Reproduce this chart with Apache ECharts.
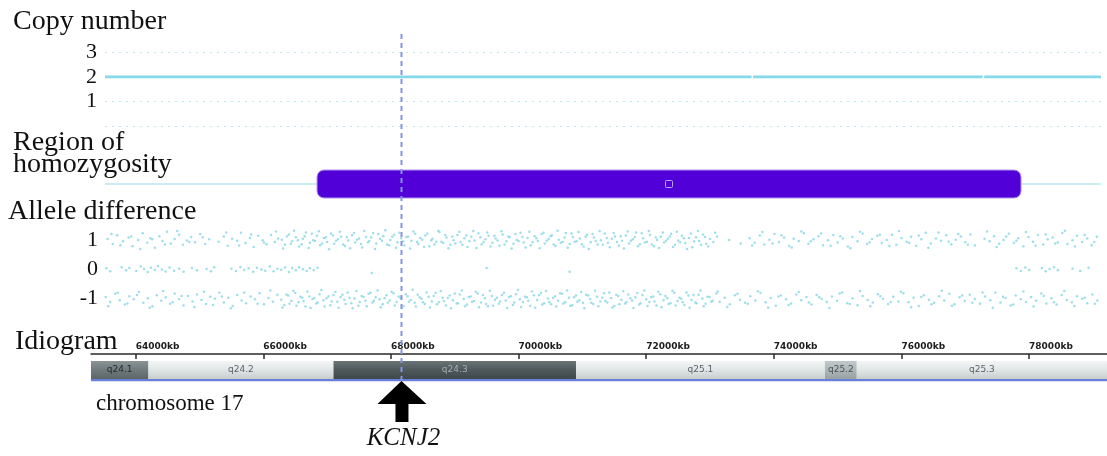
<!DOCTYPE html>
<html>
<head>
<meta charset="utf-8">
<script src="https://cdn.jsdelivr.net/npm/echarts@6/dist/echarts.min.js"></script>
<style>
html,body{margin:0;padding:0;background:#fff;}
#chart{width:1107px;height:456px;}
</style>
</head>
<body>
<div id="chart"></div>
<script>
// ---------------- DATA (positions in kb on chromosome 17) ----------------
const VIEW_TOP = [63519, 79126];        // visible range of the data tracks
const VIEW_IDIO = [63300, 79221];       // visible range of the idiogram ruler
const MAJOR_TICKS = [64000, 66000, 68000, 70000, 72000, 74000, 76000, 78000];
const CN_TICKS = [1, 2, 3];
const ALLELE_TICKS = [-1, 0, 1];
const KCNJ2_POS = 68165;
const GENE_NAME = 'KCNJ2';

// copy-number segments [start, end, copies]
const CN_SEGMENTS = [[63519, 73650, 2], [73675, 77270, 2], [77295, 79126, 2]];
// region of homozygosity [start, end]
const ROH_REGIONS = [[66841, 77873]];
// cytobands
const BAND_START = [62600, 64200, 67100, 70900, 74800, 75300];
const BAND_END   = [64200, 67100, 70900, 74800, 75300, 81195];
const BAND_NAME  = ['q24.1', 'q24.2', 'q24.3', 'q25.1', 'q25.2', 'q25.3'];
const BAND_STAIN = ['gpos75', 'gneg', 'gpos100', 'gneg', 'gpos50', 'gneg'];

// allele-difference probes [position kb, value]
const ALLELE_UP = [
[63560,1.05],[63640,0.88],[63710,1.18],[63800,0.97],[63890,1.10],[63950,0.80],[64040,1.02],[64110,1.25],[64180,0.92],[64230,1.08],
[64300,0.75],[64370,1.15],[64420,0.98],[64490,1.30],[64550,0.90],[64610,1.05],[64680,1.20],[64740,0.85],[64800,1.00],[64870,1.12],
[64930,0.94],[65010,1.22],[65090,0.88],[65150,1.04],[65300,0.96],[65380,1.14],[65440,0.82],[65510,1.06],[65590,0.99],[65650,1.27],
[65720,0.91],[65790,1.09],[65850,0.78],[65920,1.16],[65990,1.01],[66050,0.87],[66120,1.19],[66180,0.95],[66230,1.07],
[66290,1.03],[66340,0.86],[66400,1.21],[66450,0.97],[66510,1.11],[66560,0.79],[66620,1.06],[66670,1.28],[66730,0.92],[66780,1.01],
[66840,1.16],[66890,0.84],[66950,1.09],[67000,0.95],[67060,1.24],[67110,0.89],[67170,1.04],[67220,1.13],[67280,0.81],[67330,1.00],
[67390,1.18],[67440,0.93],[67500,1.07],[67550,0.76],[67610,1.12],[67660,0.98],[67720,1.26],[67770,0.90],[67830,1.05],[67880,1.15],
[67940,0.86],[67990,1.02],[68050,1.20],[68100,0.94],[68160,1.08],[68210,0.83],[68270,1.14],[68320,0.99],[68380,1.23],[68430,0.88],
[68490,1.03],[68540,1.17],[68600,0.80],[68650,1.06],[68710,0.96],[68760,1.29],[68820,0.91],[68870,1.10],[68930,0.85],[68980,1.01],
[69040,1.19],[69090,0.95],[69150,1.08],[69200,0.78],[69260,1.13],[69310,1.00],[69370,1.25],[69420,0.87],[69480,1.04],[69530,1.16],
[69590,0.92],[69640,1.07],[69700,0.82],[69750,1.21],[69810,0.97],[69860,1.11],[69920,0.89],[69970,1.02],[70030,1.27],[70080,0.93],
[70140,1.09],[70190,0.84],[70250,1.15],[70300,0.98],[70360,1.22],[70410,0.90],[70470,1.05],[70520,1.18],[70580,0.81],[70630,1.03],
[70690,0.95],[70740,1.26],[70800,0.88],[70850,1.12],[70910,0.97],[70960,1.07],[71020,0.79],[71070,1.20],[71130,0.94],[71180,1.10],
[71240,0.86],[71290,1.01],[71350,1.24],[71400,0.92],[71460,1.06],[71510,1.14],[71570,0.83],[71620,0.99],[71680,1.17],[71730,0.90],
[71790,1.04],[71840,1.28],[71900,0.87],[71950,1.08],[72010,0.96],[72060,1.19],[72120,0.80],[72170,1.02],[72230,1.13],[72280,0.93],
[72340,1.06],[72390,1.23],[72450,0.85],[72500,1.00],[72560,1.16],[72610,0.91],[72670,1.09],[72720,0.77],[72780,1.11],[72830,0.98],
[72890,1.21],[72940,0.89],[73000,1.05],[73050,0.95],[73110,1.14],[73300,1.02],[73480,0.90],
[73620,1.08],[73700,0.92],[73780,1.17],[73850,0.86],[73930,1.03],[74010,1.22],[74080,0.95],[74160,1.10],[74240,0.81],[74310,1.06],
[74390,0.98],[74470,1.25],[74540,0.89],[74620,1.04],[74700,1.15],[74770,0.84],[74850,1.01],[74930,1.19],[75000,0.93],[75080,1.07],
[75160,0.79],[75230,1.12],[75310,0.97],[75390,1.24],[75460,0.88],[75540,1.05],[75620,1.16],[75690,0.91],[75770,1.02],[75850,1.20],
[75920,0.85],[76000,1.09],[76080,0.96],[76150,1.13],[76230,0.82],[76310,1.04],[76380,1.27],[76460,0.90],[76540,1.07],[76620,0.99],
[76700,1.18],[76780,0.87],[76850,1.03],[76930,1.14],[77000,0.94],[77080,1.21],[77150,0.83],[77300,1.06],[77380,0.97],[77450,1.15],
[77530,0.89],[77600,1.02],[77680,1.23],[77760,0.92],[77830,1.08],[77910,0.80],[77990,1.12],[78060,0.96],[78140,1.19],[78220,0.86],
[78290,1.04],[78370,1.10],[78450,0.93],[78520,1.26],[78600,0.88],[78680,1.01],[78750,1.16],[78830,0.95],[78910,1.07],[78980,0.84],[79060,1.13]
];
const ALLELE_UP_B = [
[63620,1.22],[63760,0.84],[63930,1.14],[64070,0.71],[64260,1.04],[64460,0.86],[64650,1.33],[64840,0.95],[65050,1.11],[65420,1.28],
[65620,0.83],[65810,1.21],[66010,0.93],[66200,1.31],
[66310,0.72],[66370,1.14],[66430,0.89],[66480,1.34],[66540,1.01],[66600,0.87],[66650,1.15],[66710,0.74],[66760,1.23],[66810,0.98],
[66870,1.32],[66920,0.90],[66980,1.11],[67030,0.70],[67090,1.17],[67140,0.99],[67200,1.30],[67250,0.86],[67310,1.12],[67360,0.73],
[67420,1.26],[67470,1.03],[67530,0.88],[67580,1.33],[67640,0.94],[67690,1.10],[67750,0.71],[67800,1.22],[67860,0.99],[67910,1.35],
[67970,0.84],[68020,1.13],[68080,0.75],[68130,1.27],[68190,0.97],[68240,1.12],[68300,0.72],[68350,1.31],[68410,0.95],[68460,1.09],
[68520,0.78],[68570,1.24],[68630,1.01],[68680,0.86],[68740,1.34],[68790,0.96],[68850,1.19],[68900,0.73],[68960,1.14],[69010,0.90],
[69070,1.30],[69120,0.85],[69180,1.17],[69230,0.97],[69290,1.33],[69340,0.74],[69400,1.11],[69450,0.95],[69510,1.28],[69560,0.79],
[69620,1.16],[69670,1.00],[69730,1.32],[69780,0.86],[69840,1.14],[69890,0.72],[69950,1.22],[70000,0.98],[70060,1.12],[70110,0.76],
[70170,1.30],[70220,0.94],[70280,1.08],[70330,0.73],[70390,1.27],[70440,0.99],[70500,1.15],[70550,0.86],[70610,1.34],[70660,0.92],
[70720,1.10],[70770,0.75],[70830,1.24],[70880,0.96],[70940,1.29],[70990,0.87],[71050,1.13],[71100,0.71],[71160,1.22],[71210,0.98],
[71270,1.33],[71320,0.85],[71380,1.09],[71430,0.77],[71490,1.26],[71540,0.95],[71600,1.15],[71650,0.72],[71710,1.31],[71760,0.99],
[71820,1.12],[71870,0.80],[71930,1.25],[71980,0.93],[72040,1.33],[72090,0.86],[72150,1.10],[72200,0.74],[72260,1.28],[72310,0.99],
[72370,1.14],[72420,0.78],[72480,1.30],[72530,0.94],[72590,1.08],[72640,0.71],[72700,1.24],[72750,0.97],[72810,1.33],[72860,0.85],
[72920,1.12],[72970,0.79],[73080,1.27],
[73660,0.83],[73820,1.29],[73980,0.90],[74120,1.18],[74280,0.76],[74430,1.31],[74580,0.97],[74740,1.24],[74890,0.82],[75040,1.15],
[75200,0.73],[75350,1.30],[75500,0.94],[75660,1.20],[75810,0.81],[75960,1.33],[76120,0.92],[76270,1.17],[76420,0.75],[76580,1.28],
[76740,0.96],[76890,1.22],[77040,0.85],[77340,1.31],[77490,0.78],[77640,1.14],[77800,0.99],[77950,1.29],[78100,0.82],[78260,1.21],
[78410,0.90],[78560,1.34],[78720,0.79],[78870,1.19],[79020,0.95]
];
const ALLELE_MID = [
[63540,0.04],[63600,-0.06],[63780,0.08],[63850,-0.03],[63900,0.05],
[64010,-0.05],[64080,0.10],[64130,0.02],[64190,-0.09],[64240,0.06],[64300,-0.02],[64350,0.12],[64410,0.00],[64470,-0.07],[64530,0.07],
[64600,-0.04],[64680,0.03],[64750,-0.08],[64880,0.05],[64960,-0.03],[65110,0.02],[65180,-0.06],[65230,0.08],
[65500,0.03],[65570,-0.05],[65640,0.09],[65700,-0.02],[65770,0.04],[65840,-0.08],[65900,0.06],[65970,0.00],[66030,-0.04],[66100,0.10],
[66160,-0.06],[66220,0.03],[66280,-0.01],[66340,0.07],[66400,-0.09],[66450,0.05],[66510,-0.03],[66560,0.08],[66620,0.01],[66680,-0.05],
[66730,0.04],[66790,-0.02],[66850,0.06],
[67700,-0.12],[69500,0.05],[70800,-0.08],
[77800,0.04],[77870,-0.05],[77940,0.07],[78000,-0.02],[78200,0.05],[78260,-0.06],[78320,0.02],[78390,0.08],[78450,-0.03],
[78680,0.03],[78800,-0.05],[78930,0.06]
];
const ALLELE_DOWN = [
[63530,-0.95],[63600,-1.12],[63680,-0.84],[63750,-1.06],[63830,-1.21],[63900,-0.92],[63970,-1.03],[64050,-0.78],[64120,-1.15],[64190,-0.99],
[64260,-1.27],[64330,-0.89],[64400,-1.08],[64470,-0.96],[64540,-1.18],[64610,-0.83],[64680,-1.02],[64750,-1.24],[64820,-0.91],[64890,-1.10],
[64960,-0.86],[65030,-1.05],[65100,-1.19],[65170,-0.94],[65240,-1.01],[65310,-0.80],[65380,-1.14],[65450,-0.97],[65520,-1.26],[65590,-0.88],
[65660,-1.07],[65730,-1.16],[65800,-0.93],[65870,-1.03],[65940,-0.82],[66010,-1.20],[66080,-0.98],[66150,-1.11],[66220,-0.87],
[66280,-1.04],[66330,-1.22],[66390,-0.90],[66440,-1.09],[66500,-0.81],[66550,-1.13],[66610,-0.97],[66660,-1.28],[66720,-0.93],[66770,-1.02],
[66830,-1.17],[66880,-0.85],[66940,-1.06],[66990,-0.99],[67050,-1.23],[67100,-0.88],[67160,-1.11],[67210,-0.95],[67270,-1.04],[67320,-0.79],
[67380,-1.16],[67430,-1.00],[67490,-1.25],[67540,-0.91],[67600,-1.08],[67650,-0.84],[67710,-1.14],[67760,-0.96],[67820,-1.03],[67870,-1.20],
[67930,-0.89],[67980,-1.07],[68040,-0.82],[68090,-1.12],[68150,-0.98],[68200,-1.26],[68260,-0.92],[68310,-1.05],[68370,-1.15],[68420,-0.87],
[68480,-1.01],[68530,-1.19],[68590,-0.94],[68640,-1.10],[68700,-0.80],[68750,-1.13],[68810,-0.97],[68860,-1.24],[68920,-0.90],[68970,-1.06],
[69030,-1.17],[69080,-0.86],[69140,-1.02],[69190,-1.21],[69250,-0.93],[69300,-1.09],[69360,-0.83],[69410,-1.14],[69470,-0.99],[69520,-1.27],
[69580,-0.91],[69630,-1.04],[69690,-1.18],[69740,-0.88],[69800,-1.07],[69850,-0.95],[69910,-1.22],[69960,-0.85],[70020,-1.03],[70070,-1.12],
[70130,-0.96],[70180,-1.25],[70240,-0.89],[70290,-1.05],[70350,-0.81],[70400,-1.16],[70460,-1.00],[70510,-1.20],[70570,-0.92],[70620,-1.08],
[70680,-0.84],[70730,-1.13],[70790,-0.97],[70840,-1.23],[70900,-0.90],[70950,-1.06],[71010,-1.15],[71060,-0.87],[71120,-1.02],[71170,-1.19],
[71230,-0.94],[71280,-1.10],[71340,-0.82],[71390,-1.14],[71450,-0.98],[71500,-1.26],[71560,-0.91],[71610,-1.04],[71670,-1.17],[71720,-0.86],
[71780,-1.07],[71830,-0.96],[71890,-1.21],[71940,-0.88],[72000,-1.03],[72050,-1.12],[72110,-0.93],[72160,-1.24],[72220,-0.85],[72270,-1.06],
[72330,-0.99],[72380,-1.16],[72440,-0.80],[72490,-1.09],[72550,-1.01],[72600,-1.22],[72660,-0.90],[72710,-1.05],[72770,-1.14],[72820,-0.87],
[72880,-1.00],[72930,-1.18],[72990,-0.95],[73040,-1.08],[73100,-0.83],[73150,-1.11],
[73230,-0.97],[73310,-1.20],[73390,-0.89],[73470,-1.04],[73550,-1.15],[73630,-0.92],[73710,-1.07],[73790,-0.81],[73870,-1.13],[73950,-0.98],
[74030,-1.25],[74110,-0.90],[74190,-1.03],[74270,-1.17],[74350,-0.86],[74430,-1.06],[74510,-0.95],[74590,-1.21],[74670,-0.88],[74750,-1.02],
[74830,-1.12],[74910,-0.93],[74990,-1.08],[75070,-0.79],[75150,-1.16],[75230,-0.99],[75310,-1.23],[75390,-0.91],[75470,-1.05],[75550,-1.14],
[75630,-0.85],[75710,-1.01],[75790,-1.19],[75870,-0.94],[75950,-1.10],[76030,-0.82],[76110,-1.13],[76190,-0.97],[76270,-1.26],[76350,-0.89],
[76430,-1.04],[76510,-1.15],[76590,-0.92],[76670,-1.07],[76750,-0.84],[76830,-1.20],[76910,-0.96],[76990,-1.09],[77070,-0.87],[77150,-1.02],
[77230,-1.18],[77310,-0.93],[77390,-1.06],[77470,-0.80],[77550,-1.14],[77630,-0.98],[77710,-1.24],[77790,-0.90],[77870,-1.03],[77950,-1.12],
[78030,-0.95],[78110,-1.08],[78190,-0.83],[78270,-1.17],[78350,-0.99],[78430,-1.21],[78510,-0.88],[78590,-1.05],[78670,-1.13],[78750,-0.92],
[78830,-1.01],[78910,-1.16],[78990,-0.86],[79070,-1.07]
];
const ALLELE_DOWN_B = [
[63570,-1.27],[63720,-0.80],[63870,-1.17],[64020,-0.88],[64220,-1.32],[64430,-0.74],[64580,-1.13],[64720,-0.91],[64920,-1.29],[65070,-0.77],
[65210,-1.22],[65350,-0.93],[65490,-1.34],[65700,-0.79],[65910,-1.18],[66110,-0.72],
[66300,-1.31],[66360,-0.86],[66410,-1.18],[66470,-0.73],[66520,-1.25],[66580,-0.94],[66630,-1.09],[66690,-0.76],[66740,-1.33],[66800,-0.98],
[66850,-1.14],[66910,-0.71],[66960,-1.28],[67020,-0.92],[67070,-1.10],[67130,-0.78],[67180,-1.32],[67240,-0.87],[67290,-1.19],[67350,-0.97],
[67400,-1.34],[67460,-0.74],[67510,-1.12],[67570,-0.95],[67620,-1.27],[67680,-0.80],[67730,-1.08],[67790,-0.72],[67840,-1.30],[67900,-0.99],
[67950,-1.15],[68010,-0.77],[68060,-1.24],[68120,-0.93],[68170,-1.33],[68230,-0.85],[68280,-1.11],[68340,-0.70],[68390,-1.28],[68450,-0.96],
[68500,-1.13],[68560,-0.79],[68610,-1.31],[68670,-0.91],[68720,-1.20],[68780,-0.74],[68830,-1.09],[68890,-0.98],[68940,-1.34],[69000,-0.83],
[69050,-1.16],[69110,-0.72],[69160,-1.27],[69220,-0.95],[69270,-1.12],[69330,-0.77],[69380,-1.30],[69440,-0.88],[69490,-1.19],[69550,-0.73],
[69600,-1.25],[69660,-0.97],[69710,-1.10],[69770,-0.80],[69820,-1.33],[69880,-0.92],[69930,-1.14],[69990,-0.71],[70040,-1.29],[70100,-0.94],
[70150,-1.08],[70210,-0.76],[70260,-1.32],[70320,-0.89],[70370,-1.21],[70430,-0.74],[70480,-1.13],[70540,-0.98],[70590,-1.28],[70650,-0.82],
[70700,-1.17],[70760,-0.72],[70810,-1.25],[70870,-0.96],[70920,-1.11],[70980,-0.78],[71030,-1.34],[71090,-0.90],[71140,-1.15],[71200,-0.73],
[71250,-1.27],[71310,-0.97],[71360,-1.09],[71420,-0.79],[71470,-1.31],[71530,-0.87],[71580,-1.20],[71640,-0.74],[71690,-1.12],[71750,-0.99],
[71800,-1.33],[71860,-0.81],[71910,-1.16],[71970,-0.72],[72020,-1.26],[72080,-0.95],[72130,-1.10],[72190,-0.77],[72240,-1.30],[72300,-0.91],
[72350,-1.19],[72410,-0.73],[72460,-1.24],[72520,-0.97],[72570,-1.13],[72630,-0.79],[72680,-1.32],[72740,-0.88],[72790,-1.16],[72850,-0.72],
[72900,-1.27],[72960,-0.94],[73020,-1.11],[73120,-0.76],
[73270,-1.29],[73430,-0.84],[73590,-1.18],[73750,-0.75],[73910,-1.31],[74070,-0.93],[74230,-1.22],[74390,-0.78],[74550,-1.14],[74710,-0.96],
[74870,-1.33],[75030,-0.83],[75190,-1.19],[75350,-0.74],[75510,-1.27],[75670,-0.92],[75830,-1.12],[75990,-0.77],[76150,-1.30],[76310,-0.95],
[76470,-1.20],[76630,-0.73],[76790,-1.25],[76950,-0.90],[77110,-1.15],[77270,-0.79],[77430,-1.32],[77590,-0.94],[77750,-1.21],[77910,-0.76],
[78070,-1.28],[78230,-0.91],[78390,-1.13],[78550,-0.74],[78710,-1.26],[78870,-0.97],[79030,-1.18]
];

// ---------------- STYLE ----------------
const SERIF = '"Liberation Serif", "DejaVu Serif", serif';
const CYAN = '#86d9ea';
const DOT = '#86d6e2';

const minorTicks = [];
for (let v = MAJOR_TICKS[0] - 500; v <= VIEW_IDIO[1]; v += 250) {
  if (v >= VIEW_IDIO[0] && MAJOR_TICKS.indexOf(v) < 0) minorTicks.push(v);
}

const bandPalette = {
  gneg:    {c: ['#f4f6f6', '#e1e5e5', '#c7cdcd'], t: '#56646a'},
  gpos50:  {c: ['#c2c9ca', '#aeb6b7', '#98a1a2'], t: '#46545a'},
  gpos75:  {c: ['#8a9496', '#707a7c', '#5c6668'], t: '#1f2a2c'},
  gpos100: {c: ['#6a7477', '#4f595c', '#3e474a'], t: '#a3adb1'}
};

const chart = echarts.init(document.getElementById('chart'), null, {renderer: 'canvas'});

const topX = (gi) => ({
  type: 'value', gridIndex: gi, min: VIEW_TOP[0], max: VIEW_TOP[1],
  show: false, splitLine: {show: false}
});

const dotSeries = (data) => ({
  type: 'scatter', xAxisIndex: 2, yAxisIndex: 2, silent: true, symbolSize: 2.5,
  data: data, itemStyle: {color: DOT, opacity: 0.8}
});

const titleText = (x, y, text, size) => ({
  type: 'text', x: x, y: y,
  style: {text: text, font: size + 'px ' + SERIF, fill: '#111', verticalAlign: 'middle'}
});

const option = {
  animation: false,
  backgroundColor: '#fff',
  grid: [
    {left: 105, right: 6, top: 52, height: 74.5},   // copy number
    {left: 105, right: 6, top: 165, height: 38},    // ROH
    {left: 105, right: 6, top: 226, height: 87},    // allele difference
    {left: 91, right: 0, top: 354, height: 27},     // idiogram
    {left: 105, right: 6, top: 34, height: 347}     // overlay for gene line
  ],
  xAxis: [
    topX(0), topX(1), topX(2),
    {
      type: 'value', gridIndex: 3, position: 'top', min: VIEW_IDIO[0], max: VIEW_IDIO[1],
      axisLine: {show: true, onZero: false, lineStyle: {color: '#2a2a2a', width: 1.5}},
      axisTick: {show: true, inside: true, length: 5, customValues: MAJOR_TICKS, lineStyle: {color: '#2a2a2a', width: 1.5}},
      axisLabel: {show: true, customValues: MAJOR_TICKS, formatter: v => v + 'kb', align: 'left', margin: 3,
        fontSize: 9, fontWeight: 'bold', color: '#1c1c1c', fontFamily: '"DejaVu Sans", sans-serif'},
      splitLine: {show: false}
    },
    {
      type: 'value', gridIndex: 3, position: 'top', min: VIEW_IDIO[0], max: VIEW_IDIO[1],
      axisLine: {show: false},
      axisTick: {show: true, inside: false, length: 2, customValues: minorTicks, lineStyle: {color: '#555', width: 1}},
      axisLabel: {show: false}, splitLine: {show: false}
    },
    topX(4)
  ],
  yAxis: [
    {
      type: 'value', gridIndex: 0, min: 0, max: 3, interval: 1,
      axisLine: {show: false}, axisTick: {show: false},
      axisLabel: {customValues: CN_TICKS, margin: 8, fontFamily: SERIF, fontSize: 22, color: '#111'},
      splitLine: {show: true, lineStyle: {color: '#bfe8ef', type: [2, 5], width: 1}}
    },
    {type: 'value', gridIndex: 1, min: 0, max: 1, show: false, splitLine: {show: false}},
    {
      type: 'value', gridIndex: 2, min: -1.5, max: 1.5,
      axisLine: {show: false}, axisTick: {show: false},
      axisLabel: {customValues: ALLELE_TICKS, margin: 7, fontFamily: SERIF, fontSize: 22, color: '#111'},
      splitLine: {show: false}
    },
    {type: 'value', gridIndex: 3, min: 0, max: 1, show: false, splitLine: {show: false}},
    {type: 'value', gridIndex: 4, min: 0, max: 1, show: false, splitLine: {show: false}}
  ],
  graphic: [
    titleText(13, 22, 'Copy number', 28),
    titleText(13, 143, 'Region of', 28),
    titleText(13, 165, 'homozygosity', 28),
    titleText(8, 212, 'Allele difference', 28),
    titleText(15, 342, 'Idiogram', 28),
    titleText(96, 404, 'chromosome 17', 23)
  ],
  series: [
    // copy number segments
    {
      type: 'custom', xAxisIndex: 0, yAxisIndex: 0, silent: true, z: 3,
      data: CN_SEGMENTS,
      renderItem: (params, api) => {
        const a = api.coord([api.value(0), api.value(2)]);
        const b = api.coord([api.value(1), api.value(2)]);
        return {type: 'line', shape: {x1: a[0], y1: a[1], x2: b[0], y2: b[1]},
          style: {stroke: CYAN, lineWidth: 2.6}};
      }
    },
    // ROH baseline
    {
      type: 'line', xAxisIndex: 1, yAxisIndex: 1, silent: true, z: 1,
      data: [[VIEW_TOP[0], 0.5], [VIEW_TOP[1], 0.5]], symbol: 'none',
      lineStyle: {color: '#95dbea', width: 1.2}
    },
    // ROH bar
    {
      type: 'custom', xAxisIndex: 1, yAxisIndex: 1, silent: true, z: 3,
      data: ROH_REGIONS,
      renderItem: (params, api) => {
        const a = api.coord([api.value(0), 0.5]);
        const b = api.coord([api.value(1), 0.5]);
        const h = 28;
        const cx = (a[0] + b[0]) / 2;
        return {type: 'group', children: [
          {type: 'rect', shape: {x: a[0], y: a[1] - h / 2, width: b[0] - a[0], height: h, r: 7},
            style: {fill: '#5200d8', stroke: '#b497f2', lineWidth: 1}},
          {type: 'rect', shape: {x: cx - 3.5, y: a[1] - 3.5, width: 7, height: 7, r: 1},
            style: {fill: 'none', stroke: '#c7b4f7', lineWidth: 0.9}}
        ]};
      }
    },
    // allele difference probes
    dotSeries(ALLELE_UP), dotSeries(ALLELE_UP_B), dotSeries(ALLELE_MID),
    dotSeries(ALLELE_DOWN), dotSeries(ALLELE_DOWN_B),
    // idiogram bands
    {
      type: 'custom', xAxisIndex: 3, yAxisIndex: 3, silent: true, z: 2,
      data: BAND_START.map((s, i) => [s, BAND_END[i], i]),
      renderItem: (params, api) => {
        const cs = params.coordSys;
        const i = api.value(2);
        const s = api.coord([api.value(0), 0]);
        const e = api.coord([api.value(1), 0]);
        const x1 = Math.max(s[0], cs.x), x2 = Math.min(e[0], cs.x + cs.width);
        if (x2 <= x1) return null;
        const pal = bandPalette[BAND_STAIN[i]];
        return {type: 'group', children: [
          {type: 'rect', shape: {x: x1, y: cs.y + 7, width: x2 - x1, height: 18},
            style: {fill: new echarts.graphic.LinearGradient(0, 0, 0, 1, [
              {offset: 0, color: pal.c[0]}, {offset: 0.5, color: pal.c[1]}, {offset: 1, color: pal.c[2]}])}},
          {type: 'text', x: (x1 + x2) / 2, y: cs.y + 16,
            style: {text: BAND_NAME[i], fill: pal.t, font: '9px "DejaVu Sans", sans-serif',
              align: 'center', verticalAlign: 'middle'}}
        ]};
      }
    },
    // blue chromosome baseline
    {
      type: 'custom', xAxisIndex: 3, yAxisIndex: 3, silent: true, z: 2,
      data: [[VIEW_IDIO[0], VIEW_IDIO[1]]],
      renderItem: (params, api) => {
        const cs = params.coordSys;
        const a = api.coord([api.value(0), 0]);
        const b = api.coord([api.value(1), 0]);
        return {type: 'rect', shape: {x: a[0], y: cs.y + 25, width: b[0] - a[0], height: 2.2},
          style: {fill: '#6a7fd8'}};
      }
    },
    // gene position dashed line
    {
      type: 'custom', xAxisIndex: 5, yAxisIndex: 4, silent: true, z: 10, clip: false,
      data: [[KCNJ2_POS]],
      renderItem: (params, api) => {
        const cs = params.coordSys;
        const p = api.coord([api.value(0), 0]);
        return {type: 'line', shape: {x1: p[0], y1: cs.y, x2: p[0], y2: cs.y + cs.height},
          style: {stroke: '#8494e4', lineWidth: 2, lineDash: [5, 4]}};
      }
    },
    // arrow and gene label
    {
      type: 'custom', xAxisIndex: 3, yAxisIndex: 3, silent: true, z: 11, clip: false,
      data: [[KCNJ2_POS]],
      renderItem: (params, api) => {
        const cs = params.coordSys;
        const x = api.coord([api.value(0), 0])[0];
        const tip = cs.y + cs.height;
        return {type: 'group', children: [
          {type: 'polygon', shape: {points: [
            [x, tip], [x + 25, tip + 23], [x + 7, tip + 23], [x + 7, tip + 41],
            [x - 6, tip + 41], [x - 6, tip + 23], [x - 24, tip + 23]]},
            style: {fill: '#000'}},
          {type: 'text', x: x + 2, y: tip + 57,
            style: {text: GENE_NAME, font: 'italic 25px ' + SERIF, fill: '#111',
              align: 'center', verticalAlign: 'middle'}}
        ]};
      }
    }
  ]
};

chart.setOption(option);
</script>
</body>
</html>
